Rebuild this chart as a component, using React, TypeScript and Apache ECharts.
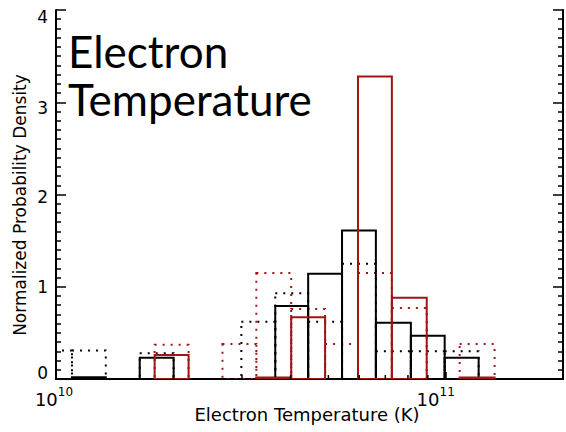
import React, { useEffect, useRef } from 'react';
import * as echarts from 'echarts';

// Bin edges (K)
const blackBinEdges = [8.99e9, 1.099e10, 1.342e10, 1.64e10, 2.004e10, 2.448e10, 2.99e10, 3.653e10, 4.437e10, 5.42e10, 6.62e10, 8.14e10, 9.94e10, 1.215e11];
const redBinEdges = [1.791e10, 2.189e10, 2.674e10, 3.267e10, 4.014e10, 4.904e10, 5.956e10, 7.276e10, 8.94e10, 1.086e11, 1.335e11];

// Normalized probability densities per bin (null = not drawn)
const blackSolid = [null, 0.02, null, 0.23, null, null, null, 0.79, 1.14, 1.61, 0.61, 0.47, 0.23];
const blackDotted = [0.31, 0.31, null, 0.28, null, null, 0.62, 0.93, 0.62, 1.25, 0.30, 0.30, 0.30];
const redSolid = [0.26, null, null, 0.015, 0.67, null, 3.28, 0.88, null, 0.015];
const redDotted = [0.37, null, 0.38, 1.15, 0.76, 0.38, 1.15, 0.77, null, 0.38];

const yTicks = [0, 1, 2, 3, 4];
const xMinK = 1e10;
const xMaxK = 2e11;
const xMinorTicksK = [2e10, 3e10, 4e10, 5e10, 6e10, 7e10, 8e10, 9e10];

const RED = '#a01414';
const BLACK = '#000000';

function toBins(edges: number[], vals: (number | null)[]) {
  const out: number[][] = [];
  vals.forEach((v, i) => {
    if (v !== null) out.push([Math.log10(edges[i]), Math.log10(edges[i + 1]), v]);
  });
  return out;
}

function histSeries(name: string, data: number[][], color: string, dotted: boolean, z: number) {
  return {
    type: 'custom',
    name,
    clip: true,
    z,
    encode: { x: [0, 1], y: 2 },
    data,
    renderItem: (params: any, api: any) => {
      const lo = api.value(0);
      const hi = api.value(1);
      const h = api.value(2);
      const p0 = api.coord([lo, h]);
      const p1 = api.coord([hi, 0]);
      return {
        type: 'rect',
        shape: { x: p0[0], y: p0[1], width: p1[0] - p0[0], height: p1[1] - p0[1] },
        style: {
          fill: 'none',
          stroke: color,
          lineWidth: 2,
          lineDash: dotted ? [2, 6] : null,
        },
      };
    },
  };
}

export default function App() {
  const ref = useRef<HTMLDivElement>(null);
  useEffect(() => {
    const chart = echarts.init(ref.current!, null, { renderer: 'svg' });
    const axisFont = 'DejaVu Sans';
    const xMin = Math.log10(xMinK);
    const xMax = Math.log10(xMaxK);
    const yl = { fontSize: 17, fontFamily: axisFont, color: BLACK };
    chart.setOption({
      animation: false,
      backgroundColor: '#ffffff',
      grid: { left: 56, right: 3, top: 10, bottom: 53, containLabel: false },
      xAxis: [
        {
          type: 'value',
          min: xMin,
          max: xMax,
          interval: 1,
          position: 'bottom',
          axisLine: { show: true, lineStyle: { color: BLACK, width: 2 } },
          axisTick: { show: true, inside: true, length: 7, lineStyle: { color: BLACK, width: 1.5 } },
          splitLine: { show: false },
          axisLabel: {
            margin: 7,
            color: BLACK,
            showMaxLabel: false,
            formatter: (v: number) => {
              const e = Math.round(v);
              if (Math.abs(v - e) > 1e-6) return '';
              return e >= 11 ? '{b|10}{t|' + e + '}' : '{b|10}{s|' + e + '}';
            },
            rich: {
              b: { fontSize: 18, fontFamily: axisFont, color: BLACK, verticalAlign: 'bottom', lineHeight: 22 },
              s: { fontSize: 12, fontFamily: axisFont, color: BLACK, verticalAlign: 'top', lineHeight: 22, padding: [0, 4, 0, 0] },
              t: { fontSize: 12, fontFamily: axisFont, color: BLACK, verticalAlign: 'top', lineHeight: 22, padding: [0, 20, 0, 0] },
            },
          },
        },
        {
          type: 'value',
          min: xMin,
          max: xMax,
          interval: 1,
          position: 'top',
          axisLine: { show: true, lineStyle: { color: BLACK, width: 2 } },
          axisTick: { show: false },
          axisLabel: { show: false },
          splitLine: { show: false },
        },
      ],
      yAxis: [
        {
          type: 'value',
          min: 0,
          max: 4,
          interval: 1,
          position: 'left',
          axisLine: { show: true, lineStyle: { color: BLACK, width: 2 } },
          axisTick: { show: true, inside: true, length: 10, lineStyle: { color: BLACK, width: 1.5 } },
          minorTick: { show: true, splitNumber: 10, length: 5, lineStyle: { color: BLACK, width: 1.5 } },
          splitLine: { show: false },
          axisLabel: {
            margin: 8,
            color: BLACK,
            fontSize: 17,
            fontFamily: axisFont,
            formatter: (v: number) => (yTicks.includes(v) ? '{a' + v + '|' + v + '}' : ''),
            rich: {
              a0: { ...yl, padding: [0, 0, 12, 0] },
              a1: { ...yl },
              a2: { ...yl, padding: [5, 0, 0, 0] },
              a3: { ...yl, padding: [12, 0, 0, 0] },
              a4: { ...yl, padding: [14, 0, 0, 0] },
            },
          },
        },
        {
          type: 'value',
          min: 0,
          max: 4,
          interval: 1,
          position: 'right',
          axisLine: { show: true, lineStyle: { color: BLACK, width: 2 } },
          axisTick: { show: true, inside: true, length: 10, lineStyle: { color: BLACK, width: 1.5 } },
          minorTick: { show: true, splitNumber: 10, length: 5, lineStyle: { color: BLACK, width: 1.5 } },
          splitLine: { show: false },
          axisLabel: { show: false },
        },
      ],
      series: [
        histSeries('blackDotted', toBins(blackBinEdges, blackDotted), BLACK, true, 2),
        histSeries('redDotted', toBins(redBinEdges, redDotted), RED, true, 3),
        histSeries('blackSolid', toBins(blackBinEdges, blackSolid), BLACK, false, 4),
        histSeries('redSolid', toBins(redBinEdges, redSolid), RED, false, 5),
        {
          type: 'custom',
          name: 'xMinorTicks',
          z: 6,
          clip: false,
          encode: { x: 0 },
          data: xMinorTicksK.map((v) => [Math.log10(v)]),
          renderItem: (params: any, api: any) => {
            const p = api.coord([api.value(0), 0]);
            return {
              type: 'line',
              shape: { x1: p[0], y1: p[1], x2: p[0], y2: p[1] - 4 },
              style: { stroke: BLACK, lineWidth: 1.5 },
            };
          },
        },
      ],
      graphic: [
        {
          type: 'text',
          left: 68,
          top: 27,
          z: 10,
          style: {
            text: 'Electron\nTemperature',
            fontFamily: 'Lato',
            fontSize: 44,
            lineHeight: 48,
            fill: BLACK,
          },
        },
        {
          type: 'text',
          x: 20,
          y: 205,
          rotation: Math.PI / 2,
          style: {
            text: 'Normalized Probability Density',
            fontFamily: axisFont,
            fontSize: 17,
            fill: BLACK,
            align: 'center',
            verticalAlign: 'middle',
          },
        },
        {
          type: 'text',
          x: 307,
          y: 414,
          style: {
            text: 'Electron Temperature (K)',
            fontFamily: axisFont,
            fontSize: 18,
            fill: BLACK,
            align: 'center',
            verticalAlign: 'middle',
          },
        },
      ],
    });
    return () => chart.dispose();
  }, []);
  return <div ref={ref} style={{ width: 566, height: 432, position: 'absolute', left: 0, top: 0 }} />;
}
